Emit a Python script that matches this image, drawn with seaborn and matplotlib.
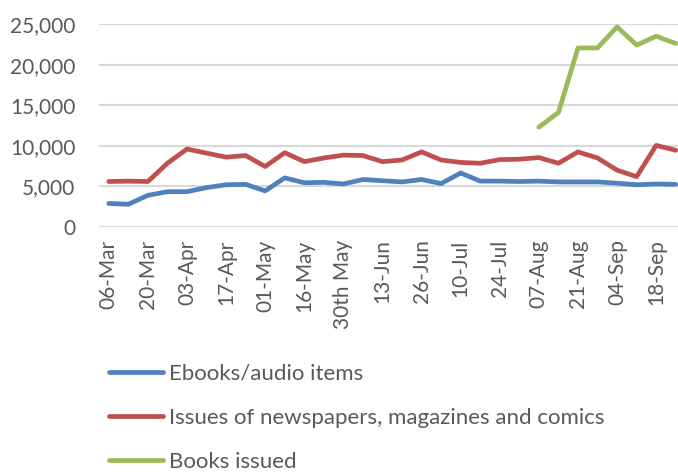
import matplotlib
matplotlib.use("Agg")
import matplotlib.pyplot as plt
import numpy as np
import pandas as pd
import seaborn as sns

# weekly dates (only every second one is labelled on the axis)
dates = ["06-Mar", "13-Mar", "20-Mar", "27-Mar", "03-Apr", "10-Apr", "17-Apr", "24-Apr",
         "01-May", "08-May", "16-May", "23-May", "30th May", "06-Jun", "13-Jun", "19-Jun",
         "26-Jun", "03-Jul", "10-Jul", "17-Jul", "24-Jul", "31-Jul", "07-Aug", "14-Aug",
         "21-Aug", "28-Aug", "04-Sep", "11-Sep", "18-Sep", "25-Sep"]

ebooks = [2900, 2800, 3900, 4350, 4350, 4850, 5200, 5250, 4450, 6050,
          5450, 5500, 5300, 5850, 5700, 5550, 5850, 5350, 6650, 5650,
          5650, 5600, 5650, 5550, 5550, 5550, 5400, 5200, 5300, 5250]

issues = [5600, 5650, 5600, 7850, 9600, 9100, 8600, 8800, 7450, 9150,
          8050, 8500, 8850, 8800, 8050, 8250, 9250, 8250, 7950, 7850,
          8300, 8350, 8550, 7850, 9250, 8500, 7000, 6200, 10050, 9450]

books = [np.nan] * 22 + [12300, 14100, 22050, 22050, 24650, 22400, 23500, 22600]

series_names = ["Ebooks/audio items",
                "Issues of newspapers, magazines and comics",
                "Books issued"]
colors = ["#4F81BD", "#C0504D", "#9BBB59"]

df = pd.DataFrame({
    "week": list(range(len(dates))) * 3,
    "value": ebooks + issues + books,
    "series": [s for s in series_names for _ in dates],
})

sns.set_style("white")
plt.rcParams["font.family"] = ["Lato", "DejaVu Sans"]
text_col = "#595959"

fig = plt.figure(figsize=(6.78, 4.74), dpi=100)
ax = fig.add_axes([99 / 678, 1 - 227 / 474, 586.5 / 678, 203 / 474])

sns.lineplot(data=df, x="week", y="value", hue="series", hue_order=series_names,
             palette=colors, linewidth=3.4, ax=ax, legend=False)

ax.set_xlim(-0.5, len(dates) - 0.5)
ax.set_ylim(0, 25000)
ax.set_yticks(range(0, 25001, 5000))
ax.set_yticklabels([f"{v:,}" for v in range(0, 25001, 5000)])
ax.set_xticks(range(0, len(dates), 2))
ax.set_xticklabels(dates[::2], rotation=90)
ax.tick_params(axis="y", length=0, pad=17, labelsize=15, labelcolor=text_col)
ax.tick_params(axis="x", length=0, pad=9, labelsize=15, labelcolor=text_col)
ax.set_xlabel("")
ax.set_ylabel("")
ax.yaxis.grid(True, color="#D9D9D9", linewidth=1.5)
ax.set_axisbelow(True)
for s in ax.spines.values():
    s.set_visible(False)

# legend stacked under the plot, as in the spreadsheet export
handles = [plt.Line2D([], [], color=c, linewidth=3.4, solid_capstyle="round") for c in colors]
fig.legend(handles, series_names, loc="upper left", bbox_to_anchor=(109 / 678, 1 - 364 / 474),
           frameon=False, fontsize=16, labelcolor=text_col, handlelength=2.45,
           handletextpad=0.27, labelspacing=1.08, borderpad=0, borderaxespad=0)

fig.savefig("out.png", dpi=100)
